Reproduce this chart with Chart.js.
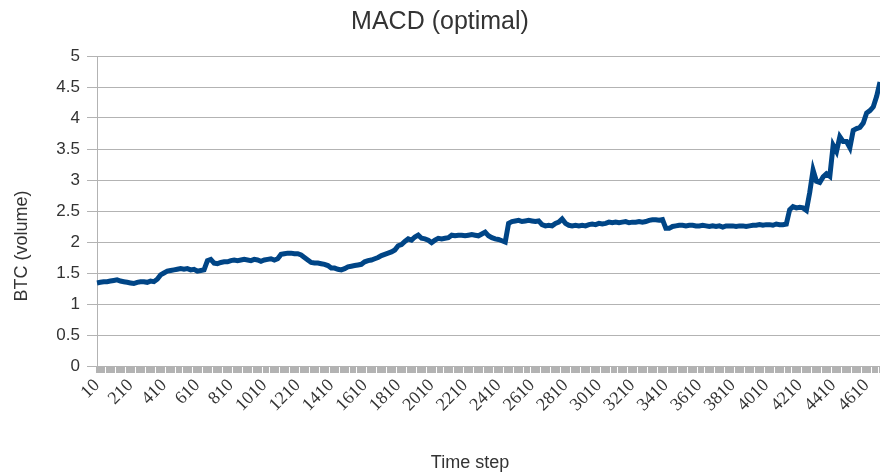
<!DOCTYPE html>
<html>
<head>
    <title>MACD (optimal)</title>
    <script src="https://cdn.jsdelivr.net/npm/chart.js@4/dist/chart.umd.min.js"></script>
    <style>
        body { margin: 0; background: #fff; }
        #wrap { width: 880px; height: 475px; }
    </style>
</head>
<body>
<div id="wrap"><canvas id="macdChart"></canvas></div>
<script>
    // time steps 10, 30, 50, ... 4690
    var timeSteps = Array.from({length: 235}, function (_, i) { return 10 + i * 20; });
    var labelEvery = 200;

    // BTC volume, one value per time step
    var btcVolume = [
        1.34, 1.35, 1.36, 1.36, 1.37, 1.38, 1.39, 1.37, 1.36, 1.35,
        1.34, 1.33, 1.35, 1.36, 1.36, 1.35, 1.37, 1.36, 1.40, 1.47,
        1.50, 1.53, 1.54, 1.55, 1.56, 1.57, 1.56, 1.57, 1.55, 1.56,
        1.53, 1.54, 1.55, 1.70, 1.72, 1.66, 1.65, 1.67, 1.68, 1.68,
        1.70, 1.71, 1.70, 1.71, 1.72, 1.71, 1.70, 1.72, 1.71, 1.69,
        1.71, 1.72, 1.73, 1.71, 1.73, 1.80, 1.81, 1.82, 1.82, 1.81,
        1.81, 1.79, 1.75, 1.71, 1.67, 1.66, 1.66, 1.65, 1.64, 1.62,
        1.58, 1.58, 1.56, 1.55, 1.57, 1.60, 1.61, 1.62, 1.63, 1.64,
        1.68, 1.70, 1.71, 1.73, 1.75, 1.78, 1.80, 1.82, 1.84, 1.87,
        1.94, 1.96, 2.01, 2.05, 2.03, 2.08, 2.11, 2.06, 2.05, 2.03,
        1.99, 2.03, 2.06, 2.05, 2.06, 2.07, 2.11, 2.10, 2.11, 2.11,
        2.10, 2.11, 2.12, 2.11, 2.10, 2.13, 2.16, 2.10, 2.07, 2.05,
        2.04, 2.02, 2.00, 2.30, 2.33, 2.34, 2.35, 2.33, 2.34, 2.35,
        2.34, 2.33, 2.34, 2.28, 2.26, 2.27, 2.26, 2.30, 2.32, 2.37,
        2.30, 2.27, 2.26, 2.27, 2.26, 2.27, 2.26, 2.28, 2.29, 2.28,
        2.30, 2.29, 2.30, 2.32, 2.31, 2.32, 2.31, 2.32, 2.33, 2.31,
        2.32, 2.32, 2.33, 2.32, 2.33, 2.35, 2.36, 2.36, 2.35, 2.36,
        2.22, 2.22, 2.25, 2.26, 2.27, 2.27, 2.26, 2.27, 2.27, 2.26,
        2.26, 2.27, 2.26, 2.25, 2.26, 2.25, 2.26, 2.24, 2.26, 2.26,
        2.26, 2.25, 2.26, 2.26, 2.25, 2.26, 2.27, 2.27, 2.28, 2.27,
        2.28, 2.28, 2.27, 2.29, 2.28, 2.28, 2.29, 2.52, 2.57, 2.55,
        2.56, 2.55, 2.51, 2.80, 3.16, 2.98, 2.96, 3.05, 3.10, 3.06,
        3.56, 3.46, 3.70, 3.62, 3.62, 3.52, 3.80, 3.83, 3.85, 3.92,
        4.08, 4.12, 4.18, 4.35, 4.58
    ];

    var gridGray = '#b3b3b3';
    var textDark = '#333333';

    // axis titles drawn by hand so they sit where the original has them
    var axisTitles = {
        id: 'axisTitles',
        afterDraw: function (chart) {
            var ctx = chart.ctx;
            ctx.save();
            ctx.fillStyle = textDark;
            ctx.font = '18px "Liberation Sans"';
            ctx.textAlign = 'center';
            ctx.textBaseline = 'middle';
            ctx.fillText('Time step', 470, 463);
            ctx.translate(22, 246);
            ctx.rotate(-Math.PI / 2);
            ctx.fillText('BTC (volume)', 0, 0);
            ctx.restore();
        }
    };

    new Chart(document.getElementById('macdChart'), {
        type: 'line',
        data: {
            labels: timeSteps.map(String),
            datasets: [{
                label: 'MACD',
                data: btcVolume,
                borderColor: '#004586',
                borderWidth: 5,
                pointRadius: 0,
                tension: 0,
                fill: false
            }]
        },
        plugins: [axisTitles],
        options: {
            responsive: true,
            maintainAspectRatio: false,
            animation: false,
            layout: { padding: 0 },
            plugins: {
                legend: { display: false },
                tooltip: { enabled: false },
                title: {
                    display: true,
                    text: 'MACD (optimal)',
                    color: textDark,
                    font: { family: 'Liberation Sans', size: 25, weight: 'normal' },
                    padding: { top: 7, bottom: 19 }
                }
            },
            scales: {
                x: {
                    offset: false,
                    border: { color: gridGray },
                    grid: {
                        drawOnChartArea: false,
                        drawTicks: true,
                        tickLength: 7,
                        tickWidth: 3,
                        tickColor: gridGray
                    },
                    ticks: {
                        autoSkip: false,
                        maxRotation: 45,
                        minRotation: 45,
                        padding: 2,
                        color: textDark,
                        font: { family: 'Liberation Serif', size: 18 },
                        callback: function (val, idx) {
                            var t = timeSteps[idx];
                            return (t - 10) % labelEvery === 0 ? String(t) : '';
                        }
                    },
                    afterFit: function (scale) {
                        scale.height = 109;
                        scale.paddingLeft = 0;
                        scale.paddingRight = 0;
                    }
                },
                y: {
                    min: 0,
                    max: 5,
                    border: { color: gridGray },
                    grid: {
                        color: gridGray,
                        tickLength: 10,
                        tickColor: gridGray
                    },
                    ticks: {
                        stepSize: 0.5,
                        padding: 7,
                        color: textDark,
                        font: { family: 'Liberation Sans', size: 17 },
                        callback: function (v) { return String(v); }
                    },
                    afterFit: function (scale) { scale.width = 97; }
                }
            }
        }
    });
</script>
</body>
</html>
